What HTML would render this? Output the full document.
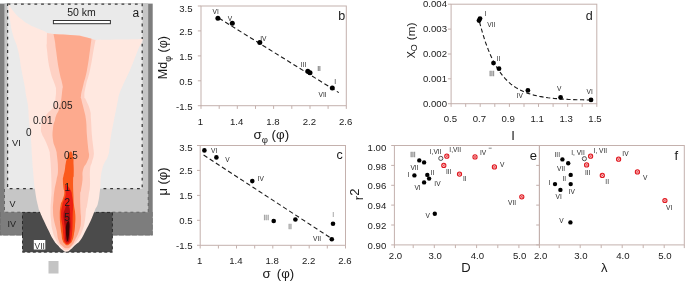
<!DOCTYPE html>
<html><head><meta charset="utf-8"><title>Figure</title>
<style>
html,body{margin:0;padding:0;background:#fff;}
svg{display:block;}
svg text{font-family:"Liberation Sans", sans-serif;}
</style></head>
<body>
<svg width="685" height="281" viewBox="0 0 685 281">
<rect width="685" height="281" fill="#fff"/>
<g opacity="0.999">
<g id="panel-a">
<rect x="0" y="3.6" width="152.7" height="231.8" fill="#7d7d7d"/>
<path d="M0.3,212 V235.1 H22.5 M112.4,235.1 H152.4 V212" fill="none" stroke="#686868" stroke-width="0.6" stroke-dasharray="5,1.5"/>
<rect x="4.4" y="3.6" width="143.8" height="208.6" fill="#c6c6c6"/>
<path d="M4.5,189 V212.2 H22.5 M112.4,212.2 H148.2 V189" fill="none" stroke="#555" stroke-width="0.8" stroke-dasharray="3,3"/>
<rect x="7.5" y="3.6" width="135" height="185.1" fill="#eaeaea"/>
<rect x="7.6" y="4.1" width="134.6" height="184.6" fill="none" stroke="#383838" stroke-width="1.25" stroke-dasharray="2.8,3.9"/>
<rect x="22.5" y="212.4" width="89.9" height="39.8" fill="#4b4b4b"/>
<path d="M8.50,4.00 C8.90,8.27 8.80,11.73 10.00,20.00 C11.20,28.27 10.87,27.00 13.00,35.00 C15.13,43.00 15.73,40.67 18.00,50.00 C20.27,59.33 19.77,60.67 21.50,70.00 C23.23,79.33 23.30,78.33 24.50,85.00 C25.70,91.67 25.07,89.40 26.00,95.00 C26.93,100.60 27.20,99.33 28.00,106.00 C28.80,112.67 28.20,110.93 29.00,120.00 C29.80,129.07 30.20,130.40 31.00,140.00 C31.80,149.60 31.47,148.00 32.00,156.00 C32.53,164.00 32.20,160.93 33.00,170.00 C33.80,179.07 33.67,180.40 35.00,190.00 C36.33,199.60 36.67,200.13 38.00,206.00 C39.33,211.87 38.53,208.27 40.00,212.00 C41.47,215.73 41.29,215.20 43.50,220.00 C45.71,224.80 45.63,224.67 48.30,230.00 C50.97,235.33 50.91,235.87 53.50,240.00 C56.09,244.13 55.73,242.94 58.00,245.50 C60.27,248.06 59.79,247.87 62.00,249.60 C64.21,251.33 64.03,252.00 66.30,252.00 C68.57,252.00 68.10,251.47 70.50,249.60 C72.90,247.73 72.63,247.56 75.30,245.00 C77.97,242.44 77.65,244.00 80.50,240.00 C83.35,236.00 83.20,235.33 86.00,230.00 C88.80,224.67 88.60,225.33 91.00,220.00 C93.40,214.67 93.13,214.53 95.00,210.00 C96.87,205.47 96.67,208.33 98.00,203.00 C99.33,197.67 98.93,198.80 100.00,190.00 C101.07,181.20 99.87,179.07 102.00,170.00 C104.13,160.93 106.00,161.87 108.00,156.00 C110.00,150.13 108.70,153.33 109.50,148.00 C110.30,142.67 109.80,143.47 111.00,136.00 C112.20,128.53 112.67,126.93 114.00,120.00 C115.33,113.07 114.93,115.33 116.00,110.00 C117.07,104.67 117.20,104.00 118.00,100.00 C118.80,96.00 117.67,99.00 119.00,95.00 C120.33,91.00 120.07,91.67 123.00,85.00 C125.93,78.33 126.00,79.33 130.00,70.00 C134.00,60.67 135.07,56.93 138.00,50.00 C140.93,43.07 139.67,46.93 141.00,44.00 C142.33,41.07 142.47,40.33 143.00,39.00 C136.87,39.16 126.13,39.44 120.00,39.60 C113.49,39.71 102.11,39.89 95.60,40.00 C82.64,38.13 59.96,34.87 47.00,33.00 C46.20,32.47 48.53,33.13 44.00,31.00 C39.47,28.87 36.40,28.47 30.00,25.00 C23.60,21.53 24.27,21.47 20.00,18.00 C15.73,14.53 17.07,15.73 14.00,12.00 C10.93,8.27 9.97,6.13 8.50,4.00Z" fill="#ffe8e0"/>
<path d="M47.00,33.00 C46.95,35.40 46.80,37.47 46.80,42.00 C46.80,46.53 46.15,42.53 47.00,50.00 C47.85,57.47 47.87,60.67 50.00,70.00 C52.13,79.33 53.40,79.67 55.00,85.00 C56.60,90.33 55.87,86.53 56.00,90.00 C56.13,93.47 56.03,93.73 55.50,98.00 C54.97,102.27 56.27,101.73 54.00,106.00 C51.73,110.27 49.93,110.27 47.00,114.00 C44.07,117.73 44.60,116.27 43.00,120.00 C41.40,123.73 41.27,124.27 41.00,128.00 C40.73,131.73 40.93,130.80 42.00,134.00 C43.07,137.20 43.13,135.73 45.00,140.00 C46.87,144.27 47.67,145.73 49.00,150.00 C50.33,154.27 49.47,150.67 50.00,156.00 C50.53,161.33 50.60,160.93 51.00,170.00 C51.40,179.07 51.50,182.00 51.50,190.00 C51.50,198.00 51.27,194.67 51.00,200.00 C50.73,205.33 50.50,204.67 50.50,210.00 C50.50,215.33 50.49,214.67 51.00,220.00 C51.51,225.33 51.07,224.67 52.40,230.00 C53.73,235.33 53.84,235.73 56.00,240.00 C58.16,244.27 57.70,243.25 60.50,246.00 C63.30,248.75 63.30,250.30 66.50,250.30 C69.70,250.30 69.57,248.75 72.50,246.00 C75.43,243.25 74.81,244.27 77.50,240.00 C80.19,235.73 80.60,235.33 82.60,230.00 C84.60,224.67 84.09,225.33 85.00,220.00 C85.91,214.67 85.47,213.73 86.00,210.00 C86.53,206.27 86.28,210.00 87.00,206.00 C87.72,202.00 87.90,200.60 88.70,195.00 C89.50,189.40 89.65,191.67 90.00,185.00 C90.35,178.33 89.47,176.13 90.00,170.00 C90.53,163.87 91.04,165.73 92.00,162.00 C92.96,158.27 93.17,159.20 93.60,156.00 C94.03,152.80 94.03,155.33 93.60,150.00 C93.17,144.67 92.69,144.00 92.00,136.00 C91.31,128.00 91.53,126.93 91.00,120.00 C90.47,113.07 91.33,115.33 90.00,110.00 C88.67,104.67 87.49,103.73 86.00,100.00 C84.51,96.27 84.40,100.00 84.40,96.00 C84.40,92.00 84.51,91.93 86.00,85.00 C87.49,78.07 87.97,79.33 90.00,70.00 C92.03,60.67 92.11,58.00 93.60,50.00 C95.09,42.00 95.07,42.67 95.60,40.00 C94.51,39.65 92.59,39.05 91.50,38.70 C88.38,37.87 82.92,36.43 79.80,35.60 C72.79,35.17 60.51,34.43 53.50,34.00 C51.77,33.73 48.73,33.27 47.00,33.00Z" fill="#fed1c4"/>
<path d="M53.50,34.00 C53.90,36.13 54.33,37.73 55.00,42.00 C55.67,46.27 54.93,42.53 56.00,50.00 C57.07,57.47 57.27,60.67 59.00,70.00 C60.73,79.33 61.62,79.67 62.50,85.00 C63.38,90.33 62.97,84.40 62.30,90.00 C61.63,95.60 61.68,99.07 60.00,106.00 C58.32,112.93 57.33,112.27 56.00,116.00 C54.67,119.73 55.80,116.80 55.00,120.00 C54.20,123.20 53.53,122.67 53.00,128.00 C52.47,133.33 52.20,134.13 53.00,140.00 C53.80,145.87 54.93,145.73 56.00,150.00 C57.07,154.27 56.47,150.67 57.00,156.00 C57.53,161.33 58.13,163.60 58.00,170.00 C57.87,176.40 57.43,174.67 56.50,180.00 C55.57,185.33 55.30,184.67 54.50,190.00 C53.70,195.33 53.90,194.67 53.50,200.00 C53.10,205.33 52.87,204.67 53.00,210.00 C53.13,215.33 53.07,214.67 54.00,220.00 C54.93,225.33 55.30,224.67 56.50,230.00 C57.70,235.33 57.03,235.87 58.50,240.00 C59.97,244.13 59.73,243.29 62.00,245.50 C64.27,247.71 64.41,248.30 67.00,248.30 C69.59,248.30 69.57,247.71 71.70,245.50 C73.83,243.29 72.95,244.13 75.00,240.00 C77.05,235.87 77.80,235.33 79.40,230.00 C81.00,224.67 80.71,225.33 81.00,220.00 C81.29,214.67 80.71,216.67 80.50,210.00 C80.29,203.33 80.07,200.33 80.20,195.00 C80.33,189.67 80.39,194.00 81.00,190.00 C81.61,186.00 81.97,185.33 82.50,180.00 C83.03,174.67 81.80,174.80 83.00,170.00 C84.20,165.20 85.40,165.73 87.00,162.00 C88.60,158.27 88.63,159.20 89.00,156.00 C89.37,152.80 88.93,155.33 88.40,150.00 C87.87,144.67 87.64,144.00 87.00,136.00 C86.36,128.00 86.80,126.93 86.00,120.00 C85.20,113.07 85.20,115.33 84.00,110.00 C82.80,104.67 82.30,103.87 81.50,100.00 C80.70,96.13 80.52,99.50 81.00,95.50 C81.48,91.50 81.70,91.80 83.30,85.00 C84.90,78.20 85.21,79.33 87.00,70.00 C88.79,60.67 88.80,58.35 90.00,50.00 C91.20,41.65 91.10,41.71 91.50,38.70 C88.38,37.90 82.92,36.50 79.80,35.70 C72.79,35.25 60.51,34.45 53.50,34.00Z" fill="#fdaa8e"/>
<path d="M70.60,151.60 C69.16,151.60 68.88,153.96 67.60,157.00 C66.32,160.04 66.55,159.53 65.80,163.00 C65.05,166.47 65.41,166.53 64.80,170.00 C64.19,173.47 64.01,173.33 63.50,176.00 C62.99,178.67 62.90,176.80 62.90,180.00 C62.90,183.20 63.13,184.53 63.50,188.00 C63.87,191.47 64.57,189.80 64.30,193.00 C64.03,196.20 63.46,196.80 62.50,200.00 C61.54,203.20 61.42,201.00 60.70,205.00 C59.98,209.00 59.85,209.40 59.80,215.00 C59.75,220.60 60.05,220.93 60.50,226.00 C60.95,231.07 60.97,230.27 61.50,234.00 C62.03,237.73 61.70,237.47 62.50,240.00 C63.30,242.53 63.30,242.11 64.50,243.50 C65.70,244.89 65.45,245.20 67.00,245.20 C68.55,245.20 68.83,244.89 70.30,243.50 C71.77,242.11 71.51,242.53 72.50,240.00 C73.49,237.47 73.33,237.73 74.00,234.00 C74.67,230.27 74.65,231.07 75.00,226.00 C75.35,220.93 75.57,220.60 75.30,215.00 C75.03,209.40 74.51,210.33 74.00,205.00 C73.49,199.67 73.64,201.67 73.40,195.00 C73.16,188.33 73.02,185.33 73.10,180.00 C73.18,174.67 73.57,179.00 73.70,175.00 C73.83,171.00 73.79,169.80 73.60,165.00 C73.41,160.20 73.80,160.57 73.00,157.00 C72.20,153.43 72.04,151.60 70.60,151.60Z" fill="#fb5a1c"/>
<path d="M65.80,185.00 C64.41,185.00 65.35,187.33 65.30,190.00 C65.25,192.67 66.08,192.07 65.60,195.00 C65.12,197.93 64.35,198.33 63.50,201.00 C62.65,203.67 63.04,201.27 62.40,205.00 C61.76,208.73 61.07,209.40 61.10,215.00 C61.13,220.60 61.94,220.93 62.50,226.00 C63.06,231.07 62.80,230.27 63.20,234.00 C63.60,237.73 63.44,237.65 64.00,240.00 C64.56,242.35 64.45,241.73 65.30,242.80 C66.15,243.87 66.08,244.00 67.20,244.00 C68.32,244.00 68.49,243.87 69.50,242.80 C70.51,241.73 70.33,242.35 71.00,240.00 C71.67,237.65 71.60,237.73 72.00,234.00 C72.40,230.27 72.31,231.07 72.50,226.00 C72.69,220.93 72.54,220.60 72.70,215.00 C72.86,209.40 73.21,209.80 73.10,205.00 C72.99,200.20 72.99,201.00 72.30,197.00 C71.61,193.00 72.23,193.20 70.50,190.00 C68.77,186.80 67.19,185.00 65.80,185.00Z" fill="#ec1f12"/>
<path d="M67.20,205.00 C66.08,205.53 65.99,206.33 65.00,209.00 C64.01,211.67 63.71,211.53 63.50,215.00 C63.29,218.47 63.80,218.53 64.20,222.00 C64.60,225.47 64.71,224.80 65.00,228.00 C65.29,231.20 65.17,230.80 65.30,234.00 C65.43,237.20 64.94,237.79 65.50,240.00 C66.06,242.21 66.33,242.30 67.40,242.30 C68.47,242.30 68.81,242.21 69.50,240.00 C70.19,237.79 69.73,237.73 70.00,234.00 C70.27,230.27 70.45,230.27 70.50,226.00 C70.55,221.73 70.33,221.73 70.20,218.00 C70.07,214.27 70.27,214.93 70.00,212.00 C69.73,209.07 69.95,208.87 69.20,207.00 C68.45,205.13 68.32,204.47 67.20,205.00Z" fill="#ad0d0f"/>
<path d="M67.80,221.50 C67.11,222.43 66.68,222.47 66.20,225.00 C65.72,227.53 65.95,227.80 66.00,231.00 C66.05,234.20 66.00,234.33 66.40,237.00 C66.80,239.67 66.89,241.00 67.50,241.00 C68.11,241.00 68.25,239.67 68.70,237.00 C69.15,234.33 68.99,234.20 69.20,231.00 C69.41,227.80 69.61,227.53 69.50,225.00 C69.39,222.47 69.25,222.43 68.80,221.50 C68.35,220.57 68.49,220.57 67.80,221.50Z" fill="#3d0606" style="filter:blur(0.5px)"/>
<path d="M22.5,235 V212.4 H40 M96,212.4 H112.4 V235" fill="none" stroke="#222" stroke-width="0.9" stroke-dasharray="3,2.5"/>
<path d="M22.5,235 V252.2 H112.4 V235" fill="none" stroke="#222" stroke-width="0.9" stroke-dasharray="3,2.5"/>
<rect x="48.5" y="261" width="10" height="12.5" fill="#c4c4c4" style="filter:blur(0.6px)"/>
<rect x="53.4" y="20.5" width="57" height="3.2" fill="#fff" stroke="#333" stroke-width="1"/>
<text x="81.5" y="15.5" font-size="10.5" text-anchor="middle" fill="#1a1a1a" >50 km</text>
<text x="132.6" y="16.9" font-size="12" text-anchor="start" fill="#1a1a1a" >a</text>
<text x="53.0" y="109.0" font-size="10" text-anchor="start" fill="#1a1a1a" >0.05</text>
<text x="33.0" y="124.2" font-size="10" text-anchor="start" fill="#1a1a1a" >0.01</text>
<text x="26.0" y="135.5" font-size="10" text-anchor="start" fill="#1a1a1a" >0</text>
<text x="12.0" y="146.2" font-size="9.3" text-anchor="start" fill="#222" >VI</text>
<text x="64.0" y="158.6" font-size="10" text-anchor="start" fill="#1a1a1a" >0.5</text>
<text x="64.4" y="190.7" font-size="10" text-anchor="start" fill="#1a1a1a" >1</text>
<text x="64.4" y="206.3" font-size="10" text-anchor="start" fill="#1a1a1a" >2</text>
<text x="64.2" y="220.8" font-size="10" text-anchor="start" fill="#1a1a1a" >5</text>
<text x="9.5" y="207.0" font-size="9" text-anchor="start" fill="#222" >V</text>
<text x="7.5" y="227.0" font-size="9" text-anchor="start" fill="#222" >IV</text>
<rect x="33.8" y="240" width="11.5" height="9.5" fill="#fff"/>
<text x="34.6" y="248.8" font-size="8.5" text-anchor="start" fill="#333" >VII</text>
</g>
<g id="panel-b">
<rect x="201.0" y="6.0" width="145.3" height="99.7" fill="none" stroke="#c4b1ad" stroke-width="1"/>
<path d="M201.0,105.7 v3.2M219.2,105.7 v3.2M237.3,105.7 v3.2M255.5,105.7 v3.2M273.6,105.7 v3.2M291.8,105.7 v3.2M310.0,105.7 v3.2M328.1,105.7 v3.2M346.3,105.7 v3.2" stroke="#c4b1ad" stroke-width="1" fill="none"/>
<path d="M201.0,6.0 h-3.2M201.0,30.9 h-3.2M201.0,55.9 h-3.2M201.0,80.8 h-3.2M201.0,105.7 h-3.2" stroke="#c4b1ad" stroke-width="1" fill="none"/>
<text x="192.6" y="11.8" font-size="9.6" text-anchor="end" fill="#1a1a1a" >3.5</text>
<text x="192.6" y="34.7" font-size="9.6" text-anchor="end" fill="#1a1a1a" >2.5</text>
<text x="192.6" y="60.1" font-size="9.6" text-anchor="end" fill="#1a1a1a" >1.5</text>
<text x="192.6" y="85.1" font-size="9.6" text-anchor="end" fill="#1a1a1a" >0.5</text>
<text x="192.6" y="109.5" font-size="9.6" text-anchor="end" fill="#1a1a1a" >-1.5</text>
<text x="200.4" y="125.3" font-size="9.6" text-anchor="middle" fill="#1a1a1a" >1</text>
<text x="236.7" y="125.3" font-size="9.6" text-anchor="middle" fill="#1a1a1a" >1.4</text>
<text x="273.0" y="125.3" font-size="9.6" text-anchor="middle" fill="#1a1a1a" >1.8</text>
<text x="309.4" y="125.3" font-size="9.6" text-anchor="middle" fill="#1a1a1a" >2.2</text>
<text x="345.7" y="125.3" font-size="9.6" text-anchor="middle" fill="#1a1a1a" >2.6</text>
<text x="271.3" y="138.6" font-size="13.4" text-anchor="middle" fill="#1a1a1a">σ<tspan font-size="9.6" dy="4">φ</tspan><tspan dy="-4"> (φ)</tspan></text>
<text transform="translate(167.4,57.6) rotate(-90)" font-size="12.5" text-anchor="middle" fill="#1a1a1a">Md<tspan font-size="9" dy="3.4">φ</tspan><tspan dy="-3.4"> (φ)</tspan></text>
<path d="M219,18.2 L338.8,92.6" stroke="#1a1a1a" stroke-width="1.1" stroke-dasharray="4.5,2.8" fill="none"/>
<circle cx="217.9" cy="18.2" r="2.5" fill="#000"/>
<circle cx="232.3" cy="23.2" r="2.5" fill="#000"/>
<circle cx="259.8" cy="42.4" r="2.5" fill="#000"/>
<circle cx="307.8" cy="71.2" r="2.5" fill="#000"/>
<circle cx="310.0" cy="72.8" r="2.5" fill="#000"/>
<circle cx="332.3" cy="88.0" r="2.5" fill="#000"/>
<text x="212.6" y="13.6" font-size="6.6" text-anchor="start" fill="#2a2a2a" >VI</text>
<text x="227.8" y="21.0" font-size="6.6" text-anchor="start" fill="#2a2a2a" >V</text>
<text x="260.2" y="40.8" font-size="6.6" text-anchor="start" fill="#2a2a2a" >IV</text>
<text x="300.8" y="67.3" font-size="6.6" text-anchor="start" fill="#2a2a2a" >III</text>
<text x="317.2" y="70.6" font-size="6.6" text-anchor="start" fill="#2a2a2a" >II</text>
<text x="334.2" y="83.7" font-size="6.6" text-anchor="start" fill="#2a2a2a" >I</text>
<text x="318.6" y="97.0" font-size="6.6" text-anchor="start" fill="#2a2a2a" >VII</text>
<text x="338.2" y="20.4" font-size="12.5" text-anchor="start" fill="#1a1a1a" >b</text>
</g>
<g id="panel-c">
<rect x="200.2" y="145.5" width="145.3" height="99.8" fill="none" stroke="#c4b1ad" stroke-width="1"/>
<path d="M200.2,245.3 v3.2M218.4,245.3 v3.2M236.5,245.3 v3.2M254.7,245.3 v3.2M272.8,245.3 v3.2M291.0,245.3 v3.2M309.2,245.3 v3.2M327.3,245.3 v3.2M345.5,245.3 v3.2" stroke="#c4b1ad" stroke-width="1" fill="none"/>
<path d="M200.2,145.5 h-3.2M200.2,170.4 h-3.2M200.2,195.4 h-3.2M200.2,220.3 h-3.2M200.2,245.3 h-3.2" stroke="#c4b1ad" stroke-width="1" fill="none"/>
<text x="192.6" y="151.1" font-size="9.6" text-anchor="end" fill="#1a1a1a" >3.5</text>
<text x="192.6" y="174.0" font-size="9.6" text-anchor="end" fill="#1a1a1a" >2.5</text>
<text x="192.6" y="199.0" font-size="9.6" text-anchor="end" fill="#1a1a1a" >1.5</text>
<text x="192.6" y="223.9" font-size="9.6" text-anchor="end" fill="#1a1a1a" >0.5</text>
<text x="192.6" y="248.9" font-size="9.6" text-anchor="end" fill="#1a1a1a" >-1.5</text>
<text x="199.6" y="263.6" font-size="9.6" text-anchor="middle" fill="#1a1a1a" >1</text>
<text x="235.9" y="263.6" font-size="9.6" text-anchor="middle" fill="#1a1a1a" >1.4</text>
<text x="272.2" y="263.6" font-size="9.6" text-anchor="middle" fill="#1a1a1a" >1.8</text>
<text x="308.6" y="263.6" font-size="9.6" text-anchor="middle" fill="#1a1a1a" >2.2</text>
<text x="344.9" y="263.6" font-size="9.6" text-anchor="middle" fill="#1a1a1a" >2.6</text>
<text x="262.6" y="277.8" font-size="13.2" text-anchor="start" fill="#1a1a1a">σ <tspan dx="2.4">(φ)</tspan></text>
<text transform="translate(166.9,181.5) rotate(-90)" font-size="13" text-anchor="middle" fill="#1a1a1a">μ (φ)</text>
<path d="M203.6,155 L331,238.2" stroke="#1a1a1a" stroke-width="1.1" stroke-dasharray="4.5,2.8" fill="none"/>
<circle cx="204.4" cy="150.4" r="2.3" fill="#000"/>
<circle cx="216.4" cy="157.4" r="2.3" fill="#000"/>
<circle cx="252.3" cy="181.1" r="2.3" fill="#000"/>
<circle cx="273.7" cy="221.0" r="2.3" fill="#000"/>
<circle cx="295.4" cy="219.5" r="2.3" fill="#000"/>
<circle cx="333.0" cy="223.7" r="2.3" fill="#000"/>
<circle cx="331.8" cy="239.2" r="2.3" fill="#000"/>
<text x="211.0" y="153.0" font-size="6.6" text-anchor="start" fill="#2a2a2a" >VI</text>
<text x="225.3" y="162.0" font-size="6.6" text-anchor="start" fill="#2a2a2a" >V</text>
<text x="257.6" y="181.4" font-size="6.6" text-anchor="start" fill="#2a2a2a" >IV</text>
<text x="263.5" y="220.4" font-size="6.6" text-anchor="start" fill="#999" stroke="#999" stroke-width="0.35">III</text>
<text x="288.2" y="228.7" font-size="6.6" text-anchor="start" fill="#999" stroke="#999" stroke-width="0.35">II</text>
<text x="332.2" y="217.0" font-size="6.6" text-anchor="start" fill="#777" >I</text>
<text x="313.0" y="240.6" font-size="6.6" text-anchor="start" fill="#2a2a2a" >VII</text>
<text x="336.6" y="159.4" font-size="12.5" text-anchor="start" fill="#1a1a1a" >c</text>
</g>
<g id="panel-d">
<rect x="451.1" y="4.2" width="145.7" height="99.5" fill="none" stroke="#c4b1ad" stroke-width="1"/>
<path d="M451.1,103.7 v3.2M465.7,103.7 v3.2M480.2,103.7 v3.2M494.8,103.7 v3.2M509.4,103.7 v3.2M524.0,103.7 v3.2M538.5,103.7 v3.2M553.1,103.7 v3.2M567.7,103.7 v3.2M582.2,103.7 v3.2M596.8,103.7 v3.2" stroke="#c4b1ad" stroke-width="1" fill="none"/>
<path d="M451.1,4.2 h-3.2M451.1,29.1 h-3.2M451.1,54.0 h-3.2M451.1,78.8 h-3.2M451.1,103.7 h-3.2" stroke="#c4b1ad" stroke-width="1" fill="none"/>
<text x="447.0" y="7.1" font-size="9.6" text-anchor="end" fill="#1a1a1a" >0.004</text>
<text x="447.0" y="31.7" font-size="9.6" text-anchor="end" fill="#1a1a1a" >0.003</text>
<text x="447.0" y="57.0" font-size="9.6" text-anchor="end" fill="#1a1a1a" >0.002</text>
<text x="447.0" y="82.2" font-size="9.6" text-anchor="end" fill="#1a1a1a" >0.001</text>
<text x="447.0" y="106.9" font-size="9.6" text-anchor="end" fill="#1a1a1a" >0.000</text>
<text x="450.4" y="122.2" font-size="9.6" text-anchor="middle" fill="#1a1a1a" >0.5</text>
<text x="479.3" y="122.2" font-size="9.6" text-anchor="middle" fill="#1a1a1a" >0.7</text>
<text x="508.2" y="122.2" font-size="9.6" text-anchor="middle" fill="#1a1a1a" >0.9</text>
<text x="537.2" y="122.2" font-size="9.6" text-anchor="middle" fill="#1a1a1a" >1.1</text>
<text x="566.1" y="122.2" font-size="9.6" text-anchor="middle" fill="#1a1a1a" >1.3</text>
<text x="595.0" y="122.2" font-size="9.6" text-anchor="middle" fill="#1a1a1a" >1.5</text>
<text x="513.0" y="140.0" font-size="13" text-anchor="middle" fill="#1a1a1a" >I</text>
<text transform="translate(414.6,58.3) scale(0.94,1) rotate(-90)" font-size="10.7" text-anchor="start" fill="#1a1a1a">X<tspan font-size="9" dy="2.8">O</tspan><tspan dy="-2.8" dx="0.6" font-size="11.8"> (m)</tspan></text>
<path d="M479.5,22.0 L482.4,32.4 L485.2,41.5 L488.1,49.3 L490.9,56.1 L493.8,62.0 L496.7,67.1 L499.5,71.5 L502.4,75.4 L505.2,78.7 L508.1,81.6 L510.9,84.1 L513.8,86.2 L516.7,88.1 L519.5,89.7 L522.4,91.1 L525.2,92.4 L528.1,93.4 L531.0,94.3 L533.8,95.1 L536.7,95.8 L539.5,96.4 L542.4,96.9 L545.3,97.4 L548.1,97.8 L551.0,98.1 L553.8,98.4 L556.7,98.6 L559.6,98.9 L562.4,99.1 L565.3,99.2 L568.1,99.4 L571.0,99.5 L573.8,99.6 L576.7,99.7 L579.6,99.8 L582.4,99.8 L585.3,99.9 L588.1,100.0 L591.0,100.0" stroke="#1a1a1a" stroke-width="1.1" stroke-dasharray="4.2,2.6" fill="none"/>
<circle cx="479.0" cy="20.6" r="2.4" fill="#000"/>
<circle cx="480.0" cy="18.6" r="2.4" fill="#000"/>
<circle cx="493.5" cy="63.1" r="2.4" fill="#000"/>
<circle cx="499.0" cy="68.7" r="2.4" fill="#000"/>
<circle cx="527.9" cy="90.4" r="2.4" fill="#000"/>
<circle cx="560.6" cy="97.4" r="2.4" fill="#000"/>
<circle cx="591.0" cy="99.9" r="2.4" fill="#000"/>
<text x="484.4" y="15.5" font-size="6.6" text-anchor="start" fill="#2a2a2a" >I</text>
<text x="487.3" y="27.4" font-size="6.6" text-anchor="start" fill="#2a2a2a" >VII</text>
<text x="496.8" y="60.6" font-size="6.6" text-anchor="start" fill="#2a2a2a" >II</text>
<text x="489.2" y="75.7" font-size="6.6" text-anchor="start" fill="#888" stroke="#888" stroke-width="0.35">III</text>
<text x="516.7" y="97.9" font-size="6.6" text-anchor="start" fill="#2a2a2a" >IV</text>
<text x="556.9" y="90.7" font-size="6.6" text-anchor="start" fill="#2a2a2a" >V</text>
<text x="586.5" y="93.7" font-size="6.6" text-anchor="start" fill="#2a2a2a" >VI</text>
<text x="585.8" y="20.4" font-size="12.5" text-anchor="start" fill="#1a1a1a" >d</text>
</g>
<g id="panel-ef">
<rect x="394.4" y="145.5" width="145.0" height="99.4" fill="none" stroke="#c4b1ad" stroke-width="1"/>
<rect x="539.4" y="145.5" width="144.9" height="99.4" fill="none" stroke="#c4b1ad" stroke-width="1"/>
<path d="M394.4,244.9 v3.2M413.2,244.9 v3.2M434.3,244.9 v3.2M455.4,244.9 v3.2M476.6,244.9 v3.2M497.8,244.9 v3.2M518.9,244.9 v3.2" stroke="#c4b1ad" stroke-width="1" fill="none"/>
<path d="M539.4,244.9 v3.2M559.2,244.9 v3.2M580.2,244.9 v3.2M601.2,244.9 v3.2M622.2,244.9 v3.2M643.2,244.9 v3.2M664.2,244.9 v3.2M684.3,244.9 v3.2" stroke="#c4b1ad" stroke-width="1" fill="none"/>
<path d="M394.4,145.5 h-3.2M394.4,165.4 h-3.2M394.4,185.3 h-3.2M394.4,205.1 h-3.2M394.4,225.0 h-3.2M394.4,244.9 h-3.2" stroke="#c4b1ad" stroke-width="1" fill="none"/>
<path d="M539.4,145.5 h-3.2M539.4,165.4 h-3.2M539.4,185.3 h-3.2M539.4,205.1 h-3.2M539.4,225.0 h-3.2M539.4,244.9 h-3.2" stroke="#c4b1ad" stroke-width="1" fill="none"/>
<text x="386.3" y="150.7" font-size="9.6" text-anchor="end" fill="#1a1a1a" >1.00</text>
<text x="386.3" y="169.8" font-size="9.6" text-anchor="end" fill="#1a1a1a" >0.98</text>
<text x="386.3" y="189.1" font-size="9.6" text-anchor="end" fill="#1a1a1a" >0.96</text>
<text x="386.3" y="208.7" font-size="9.6" text-anchor="end" fill="#1a1a1a" >0.94</text>
<text x="386.3" y="228.6" font-size="9.6" text-anchor="end" fill="#1a1a1a" >0.92</text>
<text x="386.3" y="248.5" font-size="9.6" text-anchor="end" fill="#1a1a1a" >0.90</text>
<text x="395.5" y="258.6" font-size="9.6" text-anchor="middle" fill="#1a1a1a" >2.0</text>
<text x="540.7" y="258.6" font-size="9.6" text-anchor="middle" fill="#1a1a1a" >2.0</text>
<text x="435.1" y="258.6" font-size="9.6" text-anchor="middle" fill="#1a1a1a" >3.0</text>
<text x="580.9" y="258.6" font-size="9.6" text-anchor="middle" fill="#1a1a1a" >3.0</text>
<text x="477.4" y="258.6" font-size="9.6" text-anchor="middle" fill="#1a1a1a" >4.0</text>
<text x="622.9" y="258.6" font-size="9.6" text-anchor="middle" fill="#1a1a1a" >4.0</text>
<text x="519.7" y="258.6" font-size="9.6" text-anchor="middle" fill="#1a1a1a" >5.0</text>
<text x="664.9" y="258.6" font-size="9.6" text-anchor="middle" fill="#1a1a1a" >5.0</text>
<text x="466.0" y="271.7" font-size="13" text-anchor="middle" fill="#1a1a1a" >D</text>
<text x="604.2" y="271.5" font-size="13" text-anchor="middle" fill="#1a1a1a" >λ</text>
<text transform="translate(363,200.2) rotate(-90)" font-size="13" text-anchor="start" fill="#1a1a1a">r<tspan dy="-3.6">2</tspan></text>
<circle cx="419.3" cy="160.4" r="2.2" fill="#000"/>
<circle cx="424.1" cy="162.4" r="2.2" fill="#000"/>
<circle cx="414.4" cy="175.4" r="2.2" fill="#000"/>
<circle cx="427.3" cy="174.9" r="2.2" fill="#000"/>
<circle cx="429.1" cy="178.6" r="2.2" fill="#000"/>
<circle cx="424.1" cy="182.4" r="2.2" fill="#000"/>
<circle cx="434.8" cy="213.7" r="2.2" fill="#000"/>
<circle cx="440.8" cy="158.4" r="2.1" fill="#f4f4f4" stroke="#555" stroke-width="1"/>
<g stroke="#e0161e" stroke-width="1.05" fill="#fbd9d9"><circle cx="446.8" cy="156.2" r="2.1"/><path d="M445.3,154.7 l3.0,3.0 M445.3,157.7 l3.0,-3.0" stroke-width="0.6"/></g>
<g stroke="#e0161e" stroke-width="1.05" fill="#fbd9d9"><circle cx="443.8" cy="165.4" r="2.1"/><path d="M442.3,163.9 l3.0,3.0 M442.3,166.9 l3.0,-3.0" stroke-width="0.6"/></g>
<g stroke="#e0161e" stroke-width="1.05" fill="#fbd9d9"><circle cx="459.5" cy="174.1" r="2.1"/><path d="M458.0,172.6 l3.0,3.0 M458.0,175.6 l3.0,-3.0" stroke-width="0.6"/></g>
<g stroke="#e0161e" stroke-width="1.05" fill="#fbd9d9"><circle cx="475.0" cy="156.9" r="2.1"/><path d="M473.5,155.4 l3.0,3.0 M473.5,158.4 l3.0,-3.0" stroke-width="0.6"/></g>
<g stroke="#e0161e" stroke-width="1.05" fill="#fbd9d9"><circle cx="494.4" cy="166.9" r="2.1"/><path d="M492.9,165.4 l3.0,3.0 M492.9,168.4 l3.0,-3.0" stroke-width="0.6"/></g>
<g stroke="#e0161e" stroke-width="1.05" fill="#fbd9d9"><circle cx="521.8" cy="196.8" r="2.1"/><path d="M520.3,195.3 l3.0,3.0 M520.3,198.3 l3.0,-3.0" stroke-width="0.6"/></g>
<text x="410.2" y="157.0" font-size="6.6" text-anchor="start" fill="#888" stroke="#888" stroke-width="0.35">III</text>
<text x="410.4" y="170.4" font-size="6.6" text-anchor="start" fill="#2a2a2a" >VII</text>
<text x="407.4" y="176.9" font-size="6.6" text-anchor="start" fill="#2a2a2a" >I</text>
<text x="430.6" y="175.4" font-size="6.6" text-anchor="start" fill="#2a2a2a" >II</text>
<text x="434.3" y="186.1" font-size="6.6" text-anchor="start" fill="#2a2a2a" >IV</text>
<text x="414.4" y="189.9" font-size="6.6" text-anchor="start" fill="#2a2a2a" >VI</text>
<text x="425.4" y="218.0" font-size="6.6" text-anchor="start" fill="#2a2a2a" >V</text>
<text x="429.8" y="154.4" font-size="6.6" text-anchor="start" fill="#2a2a2a" >I,VII</text>
<text x="449.3" y="152.0" font-size="6.6" text-anchor="start" fill="#2a2a2a" >I,VII</text>
<text x="446.0" y="173.6" font-size="6.6" text-anchor="start" fill="#2a2a2a" >III</text>
<text x="463.0" y="181.1" font-size="6.6" text-anchor="start" fill="#2a2a2a" >II</text>
<text x="480.0" y="155.4" font-size="6.6" text-anchor="start" fill="#2a2a2a" >IV</text>
<text x="499.9" y="167.4" font-size="6.6" text-anchor="start" fill="#2a2a2a" >V</text>
<text x="508.0" y="204.5" font-size="6.6" text-anchor="start" fill="#2a2a2a" >VII</text>
<path d="M488.7,148.2 h3" stroke="#555" stroke-width="0.7"/>
<text x="529.8" y="160.4" font-size="13" text-anchor="start" fill="#1a1a1a" >e</text>
<circle cx="562.4" cy="159.4" r="2.2" fill="#000"/>
<circle cx="568.2" cy="163.2" r="2.2" fill="#000"/>
<circle cx="570.7" cy="174.9" r="2.2" fill="#000"/>
<circle cx="555.0" cy="184.1" r="2.2" fill="#000"/>
<circle cx="570.7" cy="184.1" r="2.2" fill="#000"/>
<circle cx="560.4" cy="189.9" r="2.2" fill="#000"/>
<circle cx="570.4" cy="222.4" r="2.2" fill="#000"/>
<circle cx="584.4" cy="158.7" r="2.1" fill="#f4f4f4" stroke="#555" stroke-width="1"/>
<g stroke="#e0161e" stroke-width="1.05" fill="#fbd9d9"><circle cx="590.6" cy="156.2" r="2.1"/><path d="M589.1,154.7 l3.0,3.0 M589.1,157.7 l3.0,-3.0" stroke-width="0.6"/></g>
<g stroke="#e0161e" stroke-width="1.05" fill="#fbd9d9"><circle cx="586.6" cy="164.9" r="2.1"/><path d="M585.1,163.4 l3.0,3.0 M585.1,166.4 l3.0,-3.0" stroke-width="0.6"/></g>
<g stroke="#e0161e" stroke-width="1.05" fill="#fbd9d9"><circle cx="602.3" cy="175.4" r="2.1"/><path d="M600.8,173.9 l3.0,3.0 M600.8,176.9 l3.0,-3.0" stroke-width="0.6"/></g>
<g stroke="#e0161e" stroke-width="1.05" fill="#fbd9d9"><circle cx="618.6" cy="159.2" r="2.1"/><path d="M617.1,157.7 l3.0,3.0 M617.1,160.7 l3.0,-3.0" stroke-width="0.6"/></g>
<g stroke="#e0161e" stroke-width="1.05" fill="#fbd9d9"><circle cx="637.4" cy="171.9" r="2.1"/><path d="M635.9,170.4 l3.0,3.0 M635.9,173.4 l3.0,-3.0" stroke-width="0.6"/></g>
<g stroke="#e0161e" stroke-width="1.05" fill="#fbd9d9"><circle cx="664.9" cy="200.5" r="2.1"/><path d="M663.4,199.0 l3.0,3.0 M663.4,202.0 l3.0,-3.0" stroke-width="0.6"/></g>
<text x="554.5" y="156.9" font-size="6.6" text-anchor="start" fill="#2a2a2a" >III</text>
<text x="571.2" y="155.4" font-size="6.6" text-anchor="start" fill="#2a2a2a" >I, VII</text>
<text x="593.6" y="152.9" font-size="6.6" text-anchor="start" fill="#2a2a2a" >I, VII</text>
<text x="622.3" y="156.2" font-size="6.6" text-anchor="start" fill="#2a2a2a" >IV</text>
<text x="557.0" y="170.6" font-size="6.6" text-anchor="start" fill="#2a2a2a" >VII</text>
<text x="584.9" y="174.9" font-size="6.6" text-anchor="start" fill="#2a2a2a" >III</text>
<text x="562.4" y="180.6" font-size="6.6" text-anchor="start" fill="#2a2a2a" >II</text>
<text x="605.3" y="184.1" font-size="6.6" text-anchor="start" fill="#2a2a2a" >II</text>
<text x="548.8" y="184.9" font-size="6.6" text-anchor="start" fill="#2a2a2a" >I</text>
<text x="568.7" y="193.6" font-size="6.6" text-anchor="start" fill="#2a2a2a" >IV</text>
<text x="555.5" y="199.3" font-size="6.6" text-anchor="start" fill="#2a2a2a" >VI</text>
<text x="559.3" y="223.2" font-size="6.6" text-anchor="start" fill="#2a2a2a" >V</text>
<text x="643.0" y="179.9" font-size="6.6" text-anchor="start" fill="#2a2a2a" >V</text>
<text x="666.1" y="209.5" font-size="6.6" text-anchor="start" fill="#2a2a2a" >VI</text>
<text x="674.6" y="160.4" font-size="13" text-anchor="start" fill="#1a1a1a" >f</text>
</g>
</g>
</svg>
</body></html>
